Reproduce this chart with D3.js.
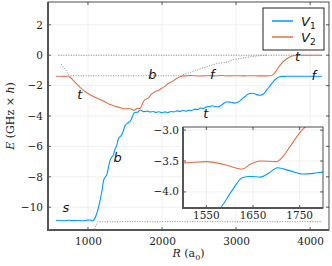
<!doctype html>
<html lang="en">
<head>
<meta charset="utf-8">
<title>V1 V2 potentials</title>
<style>
  body { margin: 0; background: white; }
  svg { display: block; }
  .tick-label { font: 10.5px "DejaVu Serif", serif; fill: #222; }
  .note { font: italic 13px "DejaVu Sans", sans-serif; fill: #111; }
</style>
</head>
<body>
<svg id="svg" width="332" height="266"></svg>
<script src="https://cdn.jsdelivr.net/npm/d3@7"></script>
<script>
  // ---- data (R in a0, E in GHz x h) ----
  var v1_R = [568, 620, 680, 740, 800, 860, 920, 980, 1030, 1060, 1090, 1120, 1145, 1170, 1190, 1210, 1235, 1255, 1280, 1300, 1320, 1340, 1365, 1390, 1410, 1435, 1455, 1475, 1500, 1540, 1580, 1605, 1627, 1645, 1666, 1685, 1702, 1730, 1758, 1780, 1800,
    1840, 1880, 1920, 1960, 2000, 2040, 2080, 2120, 2160, 2200, 2240, 2280, 2320, 2360, 2400, 2440, 2480, 2520, 2560, 2600, 2640, 2680, 2720, 2760, 2800, 2840, 2880, 2930, 2980, 3030, 3080, 3130, 3180, 3220, 3270, 3320, 3370, 3410, 3460, 3500, 3540, 3580, 3630, 3700, 3800, 3900, 4000, 4160];
  var v1_E = [-10.88, -10.86, -10.89, -10.86, -10.88, -10.86, -10.89, -10.86, -10.84, -10.9, -10.75, -10.4, -9.95, -9.4, -8.9, -8.25, -8.0, -7.85, -7.3, -6.9, -6.7, -6.6, -6.2, -5.9, -5.5, -5.35, -5.25, -5.0, -4.65, -4.45, -4.26, -3.98, -3.77, -3.75, -3.76, -3.69, -3.61, -3.66, -3.71, -3.7, -3.68,
    -3.74, -3.7, -3.76, -3.72, -3.78, -3.73, -3.77, -3.7, -3.73, -3.66, -3.7, -3.64, -3.68, -3.62, -3.64, -3.55, -3.58, -3.48, -3.5, -3.4, -3.38, -3.33, -3.38, -3.4, -3.3, -3.15, -3.06, -3.1, -3.15, -3.08, -2.88, -2.68, -2.52, -2.5, -2.58, -2.63, -2.55, -2.32, -2.0, -1.75, -1.55, -1.43, -1.39, -1.38, -1.38, -1.38, -1.38, -1.38];

  var v2_R = [568, 620, 680, 730, 760, 800, 850, 900, 950, 1000, 1060, 1120, 1180, 1240, 1300, 1370, 1430, 1500, 1550, 1590, 1627, 1645, 1665, 1700, 1715, 1730, 1762, 1790, 1815, 1860, 1905, 1950, 1995, 2040, 2085, 2130, 2175, 2210, 2243, 2300, 2400, 2500, 2600, 2700, 2800, 2900, 3000, 3100, 3200, 3300, 3400, 3460, 3500, 3540, 3580, 3620, 3680, 3740, 3800, 3900, 4000, 4160];
  var v2_E = [-1.38, -1.38, -1.39, -1.37, -1.45, -1.65, -1.9, -2.15, -2.35, -2.52, -2.68, -2.82, -2.95, -3.1, -3.25, -3.36, -3.45, -3.53, -3.51, -3.56, -3.63, -3.55, -3.5, -3.51, -3.42, -3.26, -2.95, -2.88, -2.82, -2.55, -2.4, -2.32, -2.18, -2.05, -1.86, -1.75, -1.6, -1.5, -1.42, -1.36, -1.34, -1.37, -1.35, -1.36, -1.34, -1.36, -1.35, -1.36, -1.35, -1.36, -1.36, -1.35, -1.28, -1.05, -0.75, -0.5, -0.25, -0.08, -0.02, 0, 0, 0];

  // dotted thresholds
  var th0_R = [600, 4160];
  var th0_E = [0, 0];
  var th1_R = [640, 700, 760, 1200, 1800, 2240, 2300, 2370, 2470, 2600, 2740, 2890, 2920, 3050, 3190, 3320, 3420];
  var th1_E = [-0.6, -0.98, -1.35, -1.35, -1.35, -1.35, -1.25, -1.15, -0.98, -0.77, -0.55, -0.44, -0.37, -0.22, -0.11, -0.03, 0];
  var th2_R = [1090, 1110, 1135, 2000, 3000, 4160];
  var th2_E = [-11.45, -11.2, -10.95, -10.95, -10.95, -10.95];

  var x_ticks = [1000, 2000, 3000, 4000];
  var y_ticks = [2, 0, -2, -4, -6, -8, -10];
  var inset_x_ticks = [1550, 1650, 1750];
  var inset_y_ticks = [-3.0, -3.5, -4.0];

  var notes = [
    {t: "s", R: 700, E: -10.3},
    {t: "b", R: 1400, E: -7.0},
    {t: "t", R: 890, E: -2.9},
    {t: "b", R: 1870, E: -1.55},
    {t: "f", R: 2680, E: -1.55},
    {t: "t", R: 2590, E: -4.15},
    {t: "t", R: 3830, E: -0.4},
    {t: "f", R: 4050, E: -1.6}
  ];

  var blue = "#009AFA", orange = "#E36F47";

  function zip(a, b) { return a.map(function(d, i) { return [d, b[i]]; }); }
  var v1 = zip(v1_R, v1_E), v2 = zip(v2_R, v2_E);
  var th0 = zip(th0_R, th0_E), th1 = zip(th1_R, th1_E), th2 = zip(th2_R, th2_E);

  function minus(d) { return d < 0 ? "\u2212" + (-d) : "" + d; }

  var svg = d3.select("#svg");

  // ---- main axes ----
  var L = 48, R = 329, T = 2, B = 230;
  var x = d3.scaleLinear().domain([460, 4255]).range([L, R]);
  var y = d3.scaleLinear().domain([-11.5, 3.5]).range([B, T]);

  svg.append("defs").append("clipPath").attr("id", "clip_main")
    .append("rect").attr("x", L).attr("y", T).attr("width", R - L).attr("height", B - T);

  // grid
  var grid = svg.append("g").attr("stroke", "#e6e6e6").attr("stroke-width", 0.6);
  grid.selectAll(".gx").data(x_ticks).enter().append("line")
    .attr("x1", function(d) { return x(d); }).attr("x2", function(d) { return x(d); })
    .attr("y1", T).attr("y2", B);
  grid.selectAll(".gy").data(y_ticks).enter().append("line")
    .attr("y1", function(d) { return y(d); }).attr("y2", function(d) { return y(d); })
    .attr("x1", L).attr("x2", R);

  var line = d3.line()
    .x(function(d) { return x(d[0]); })
    .y(function(d) { return y(d[1]); })
    .curve(d3.curveMonotoneX);

  var plot = svg.append("g").attr("clip-path", "url(#clip_main)");
  [th0, th1, th2].forEach(function(d) {
    plot.append("path").attr("d", line(d)).attr("fill", "none")
      .attr("stroke", "#8a8a8a").attr("stroke-width", 1).attr("stroke-dasharray", "1,1.5");
  });
  plot.append("path").attr("d", line(v2)).attr("fill", "none").attr("stroke", orange).attr("stroke-width", 1.1);
  plot.append("path").attr("d", line(v1)).attr("fill", "none").attr("stroke", blue).attr("stroke-width", 1.1);

  // axes (labels outside, ticks drawn by hand below)
  var xa = svg.append("g").attr("transform", "translate(0," + B + ")")
    .call(d3.axisBottom(x).tickValues(x_ticks).tickSize(0).tickPadding(8).tickFormat(d3.format("d")));
  xa.select(".domain").remove();
  xa.selectAll("text").attr("class", "tick-label").attr("font-family", null).attr("font-size", null);

  var ya = svg.append("g").attr("transform", "translate(" + L + ",0)")
    .call(d3.axisLeft(y).tickValues(y_ticks).tickSize(0).tickPadding(5).tickFormat(minus));
  ya.select(".domain").remove();
  ya.selectAll("text").attr("class", "tick-label").attr("font-family", null).attr("font-size", null);

  // small mirrored ticks
  var tk = svg.append("g").attr("stroke", "#333").attr("stroke-width", 0.8);
  y_ticks.forEach(function(d) {
    tk.append("line").attr("x1", L).attr("x2", L + 3).attr("y1", y(d)).attr("y2", y(d));
    tk.append("line").attr("x1", R).attr("x2", R - 3).attr("y1", y(d)).attr("y2", y(d));
  });
  x_ticks.forEach(function(d) {
    tk.append("line").attr("x1", x(d)).attr("x2", x(d)).attr("y1", B).attr("y2", B - 3);
    tk.append("line").attr("x1", x(d)).attr("x2", x(d)).attr("y1", T).attr("y2", T + 3);
  });

  // frame
  svg.append("rect").attr("x", L).attr("y", T).attr("width", R - L).attr("height", B - T)
    .attr("fill", "none").attr("stroke", "#222").attr("stroke-width", 0.8);
  svg.append("path").attr("d", "M" + L + "," + T + "V" + B + "H" + R)
    .attr("fill", "none").attr("stroke", "#555").attr("stroke-width", 2);

  // notes
  svg.selectAll(".note").data(notes).enter().append("text")
    .attr("class", "note")
    .attr("x", function(d) { return x(d.R); })
    .attr("y", function(d) { return y(d.E); })
    .attr("text-anchor", "middle")
    .text(function(d) { return d.t; });

  // axis labels
  var yl = svg.append("text").attr("transform", "translate(14,116) rotate(-90)")
    .attr("text-anchor", "middle").style("font", "11px 'DejaVu Serif', serif").attr("fill", "#222");
  yl.append("tspan").attr("font-style", "italic").text("E");
  yl.append("tspan").text(" (GHz \u00d7 ");
  yl.append("tspan").attr("font-style", "italic").text("h");
  yl.append("tspan").text(")");

  var xl = svg.append("text").attr("x", (L + R) / 2).attr("y", 257)
    .attr("text-anchor", "middle").style("font", "11px 'DejaVu Serif', serif").attr("fill", "#222");
  xl.append("tspan").attr("font-style", "italic").text("R");
  xl.append("tspan").text(" (a");
  xl.append("tspan").attr("font-size", "8px").attr("dy", 2.5).text("0");
  xl.append("tspan").attr("dy", -2.5).text(")");

  // legend
  var lg = svg.append("g");
  lg.append("rect").attr("x", 263).attr("y", 8).attr("width", 61).attr("height", 42)
    .attr("fill", "white").attr("stroke", "#222").attr("stroke-width", 1);
  [{c: blue, n: "1", yy: 21}, {c: orange, n: "2", yy: 37}].forEach(function(d) {
    lg.append("line").attr("x1", 272).attr("x2", 293).attr("y1", d.yy).attr("y2", d.yy)
      .attr("stroke", d.c).attr("stroke-width", 1.5);
    var t = lg.append("text").attr("x", 301).attr("y", d.yy + 4.5)
      .style("font", "italic 13px 'DejaVu Sans', sans-serif").attr("fill", "#111");
    t.append("tspan").text("V");
    t.append("tspan").attr("font-size", "9px").attr("font-style", "normal").attr("dy", 3).text(d.n);
  });

  // ---- inset ----
  var iL = 183, iR = 323, iT = 127, iB = 208;
  var ix = d3.scaleLinear().domain([1500, 1800]).range([iL, iR]);
  var iy = d3.scaleLinear().domain([-4.26, -2.95]).range([iB, iT]);

  svg.select("defs").append("clipPath").attr("id", "clip_inset")
    .append("rect").attr("x", iL).attr("y", iT).attr("width", iR - iL).attr("height", iB - iT);

  var ins = svg.append("g");
  ins.append("rect").attr("x", iL).attr("y", iT).attr("width", iR - iL).attr("height", iB - iT).attr("fill", "white");
  var ig = ins.append("g").attr("stroke", "#e6e6e6").attr("stroke-width", 0.6);
  inset_x_ticks.forEach(function(d) {
    ig.append("line").attr("x1", ix(d)).attr("x2", ix(d)).attr("y1", iT).attr("y2", iB);
  });
  inset_y_ticks.forEach(function(d) {
    ig.append("line").attr("y1", iy(d)).attr("y2", iy(d)).attr("x1", iL).attr("x2", iR);
  });

  var iline = d3.line()
    .x(function(d) { return ix(d[0]); })
    .y(function(d) { return iy(d[1]); })
    .curve(d3.curveMonotoneX);
  var ip = ins.append("g").attr("clip-path", "url(#clip_inset)");
  ip.append("path").attr("d", iline(v2)).attr("fill", "none").attr("stroke", orange).attr("stroke-width", 1.1);
  ip.append("path").attr("d", iline(v1)).attr("fill", "none").attr("stroke", blue).attr("stroke-width", 1.1);

  var itk = ins.append("g").attr("stroke", "#333").attr("stroke-width", 0.8);
  inset_x_ticks.forEach(function(d) {
    itk.append("line").attr("x1", ix(d)).attr("x2", ix(d)).attr("y1", iB).attr("y2", iB - 3);
    itk.append("line").attr("x1", ix(d)).attr("x2", ix(d)).attr("y1", iT).attr("y2", iT + 3);
  });
  inset_y_ticks.forEach(function(d) {
    itk.append("line").attr("x1", iL).attr("x2", iL + 3).attr("y1", iy(d)).attr("y2", iy(d));
    itk.append("line").attr("x1", iR).attr("x2", iR - 3).attr("y1", iy(d)).attr("y2", iy(d));
  });

  ins.selectAll(".ixl").data(inset_x_ticks).enter().append("text")
    .attr("class", "tick-label").attr("text-anchor", "middle")
    .attr("x", function(d) { return ix(d); }).attr("y", iB + 11)
    .text(function(d) { return d; });
  ins.selectAll(".iyl").data(inset_y_ticks).enter().append("text")
    .attr("class", "tick-label").attr("text-anchor", "end")
    .attr("x", iL - 4).attr("y", function(d) { return iy(d) + 3.5; })
    .text(function(d) { return "\u2212" + (-d).toFixed(1); });

  ins.append("rect").attr("x", iL).attr("y", iT).attr("width", iR - iL).attr("height", iB - iT)
    .attr("fill", "none").attr("stroke", "#222").attr("stroke-width", 0.8);
  ins.append("path").attr("d", "M" + iL + "," + iT + "V" + iB + "H" + iR)
    .attr("fill", "none").attr("stroke", "#555").attr("stroke-width", 2);
</script>
</body>
</html>
